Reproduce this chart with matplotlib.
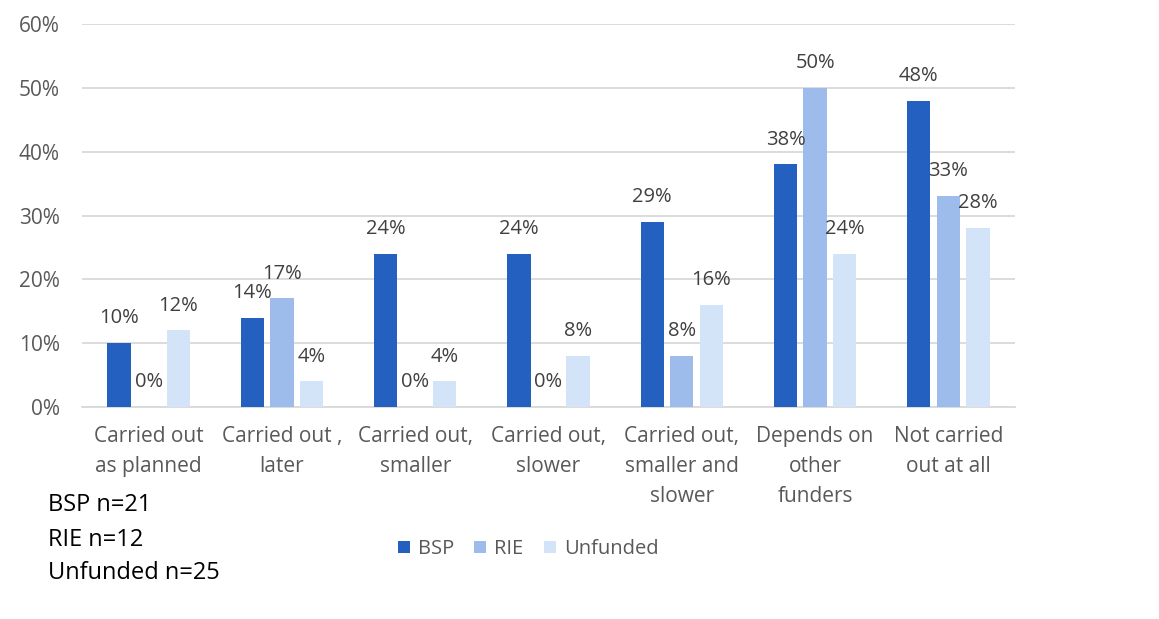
import numpy as np
import matplotlib.pyplot as plt

plt.rcParams['font.family'] = ['Open Sans', 'DejaVu Sans']

categories = ["Carried out\nas planned", "Carried out ,\nlater", "Carried out,\nsmaller",
              "Carried out,\nslower", "Carried out,\nsmaller and\nslower",
              "Depends on\nother\nfunders", "Not carried\nout at all"]
bsp = [10, 14, 24, 24, 29, 38, 48]
rie = [0, 17, 0, 0, 8, 50, 33]
unfunded = [12, 4, 4, 8, 16, 24, 28]
series = [("BSP", bsp, "#2360BF"), ("RIE", rie, "#9DBCEB"), ("Unfunded", unfunded, "#D3E4F8")]

fig = plt.figure(figsize=(11.59, 6.19), dpi=100)
ax = fig.add_axes([82/1159, 1 - 407/619, (1015-82)/1159, (407-24)/619])

x = np.arange(len(categories))
w = 0.175
step = 0.222
for i, (name, vals, col) in enumerate(series):
    pos = x + (i - 1) * step
    ax.bar(pos, vals, width=w, color=col, label=name, zorder=3)
    for p, v in zip(pos, vals):
        ax.text(p, v + 3.9, f"{v}%", ha="center", va="center", fontsize=14.5, color="#404040", zorder=4)

ax.set_xlim(-0.5, len(categories) - 0.5)
ax.set_ylim(0, 60)
ax.set_yticks(range(0, 61, 10))
ax.set_yticklabels([f"{t}%" for t in range(0, 61, 10)])
ax.set_xticks(x)
ax.set_xticklabels(categories, linespacing=1.55, va="top")
ax.tick_params(axis="both", length=0, labelsize=15, labelcolor="#595959")
ax.tick_params(axis="x", pad=14)
ax.tick_params(axis="y", pad=16)
ax.grid(axis="y", color="#D9D9D9", lw=1.3, zorder=0)
for s in ["top", "right", "left"]:
    ax.spines[s].set_visible(False)
ax.spines["bottom"].set_color("#D9D9D9")
ax.spines["bottom"].set_linewidth(1.3)

fig.legend(loc="center", bbox_to_anchor=(528/1159, 1 - 549/619), ncol=3, frameon=False,
           fontsize=14.5, handlelength=0.6, handleheight=0.6, handletextpad=0.4,
           columnspacing=1.0, labelcolor="#595959")

for txt, yy in [("BSP n=21", 505), ("RIE n=12", 540), ("Unfunded n=25", 573)]:
    fig.text(48/1159, 1 - yy/619, txt, fontsize=17, color="black", va="center", ha="left")

plt.savefig("out.png", dpi=100)
